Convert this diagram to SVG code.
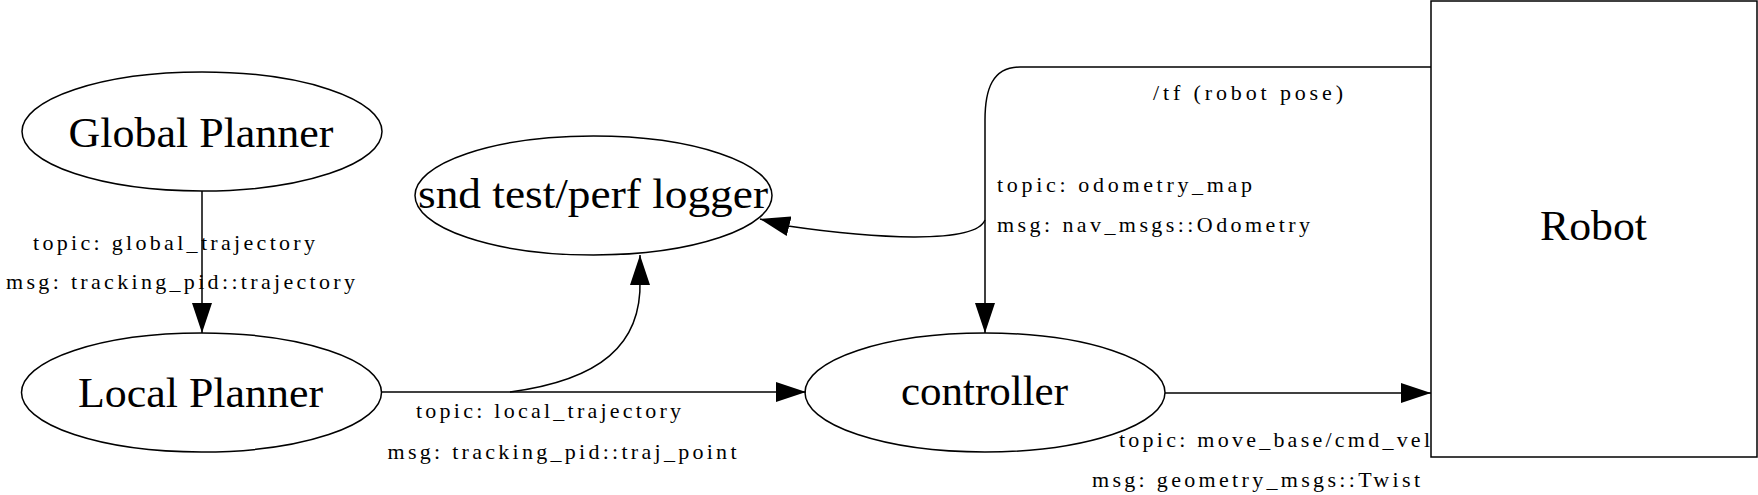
<svg xmlns="http://www.w3.org/2000/svg" width="1758" height="495" viewBox="0 0 1758 495">
<style>
.node{fill:none;stroke:#000;stroke-width:1.5}
.edge{fill:none;stroke:#000;stroke-width:1.5}
.big{font-family:"Liberation Serif","Times New Roman",serif;font-size:42px;fill:#000;text-anchor:middle}
.lbl{font-family:"Liberation Serif","Times New Roman",serif;font-size:22px;fill:#000}
.mid{text-anchor:middle}
</style>
<defs>
<marker id="arr" viewBox="0 0 30 20" refX="30" refY="10" markerWidth="30" markerHeight="20" markerUnits="userSpaceOnUse" orient="auto">
<path d="M0,0 L30,10 L0,20 Z" fill="#000"/>
</marker>
</defs>
<rect width="1758" height="495" fill="#fff"/>
<g id="connectors">
<path class="edge" d="M202 191 L202 333" marker-end="url(#arr)"/>
<path class="edge" d="M381 392 L806 392" marker-end="url(#arr)"/>
<path class="edge" d="M510 392 C600 380 642 345 640 280 L640 255" marker-end="url(#arr)"/>
<path class="edge" d="M1165 393 L1431 393" marker-end="url(#arr)"/>
<path class="edge" d="M1431 67 L1020 67 C992 67 985 90 985 120 L985 333" marker-end="url(#arr)"/>
<path class="edge" d="M985 220 C975 245 870 238 788 226 L760 219" marker-end="url(#arr)"/>
<text class="lbl mid" x="174" y="250" textLength="282" lengthAdjust="spacing">topic: global_trajectory</text>
<text class="lbl mid" x="180.5" y="289" textLength="349" lengthAdjust="spacing">msg: tracking_pid::trajectory</text>
<text class="lbl mid" x="548.5" y="418" textLength="265" lengthAdjust="spacing">topic: local_trajectory</text>
<text class="lbl mid" x="562" y="459" textLength="349" lengthAdjust="spacing">msg: tracking_pid::traj_point</text>
<text class="lbl mid" x="1248" y="100" textLength="190" lengthAdjust="spacing">/tf (robot pose)</text>
<text class="lbl" x="997" y="192" textLength="255" lengthAdjust="spacing">topic: odometry_map</text>
<text class="lbl" x="997" y="232" textLength="313" lengthAdjust="spacing">msg: nav_msgs::Odometry</text>
<text class="lbl mid" x="1274.5" y="447" textLength="311" lengthAdjust="spacing">topic: move_base/cmd_vel</text>
<text class="lbl mid" x="1256" y="487" textLength="328" lengthAdjust="spacing">msg: geometry_msgs::Twist</text>
</g>
<g id="global_planner">
<ellipse class="node" cx="202" cy="131.5" rx="180" ry="59.5"/>
<text class="big" x="201" y="147" textLength="265" lengthAdjust="spacingAndGlyphs">Global Planner</text>
</g>
<g id="local_planner">
<ellipse class="node" cx="201.5" cy="392.5" rx="180" ry="59.5"/>
<text class="big" x="200.5" y="407" textLength="245" lengthAdjust="spacingAndGlyphs">Local Planner</text>
</g>
<g id="logger">
<ellipse class="node" cx="593.5" cy="195.5" rx="178.5" ry="59.5"/>
<text class="big" x="593" y="208" textLength="350" lengthAdjust="spacingAndGlyphs">snd test/perf logger</text>
</g>
<g id="controller">
<ellipse class="node" cx="985" cy="392.5" rx="180" ry="59.5"/>
<text class="big" x="984.5" y="405" textLength="167" lengthAdjust="spacingAndGlyphs">controller</text>
</g>
<g id="robot">
<rect class="node" x="1431" y="1" width="326" height="456"/>
<text class="big" x="1593.5" y="240" textLength="107" lengthAdjust="spacingAndGlyphs">Robot</text>
</g>
</svg>
